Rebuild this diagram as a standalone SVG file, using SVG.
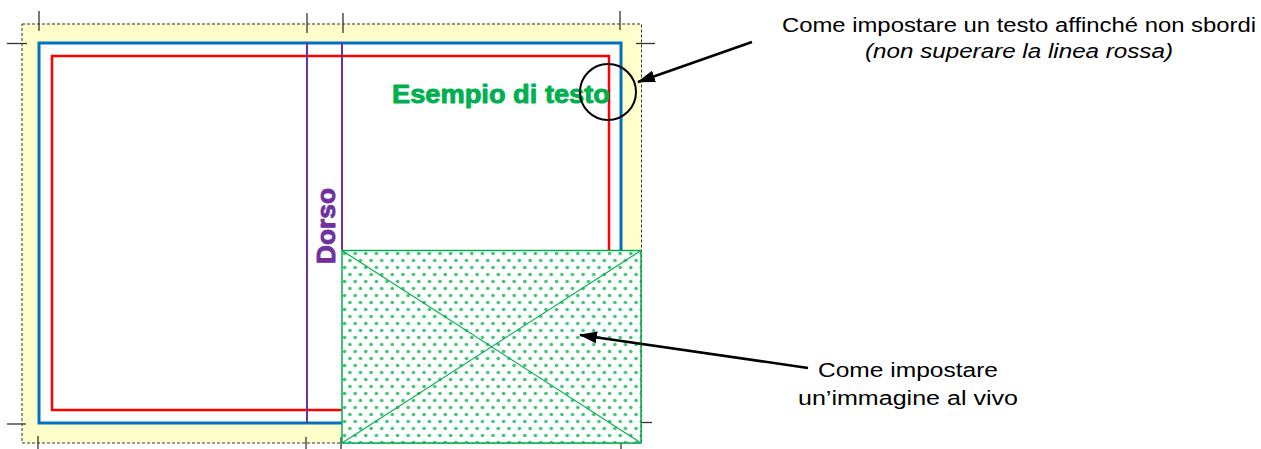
<svg xmlns="http://www.w3.org/2000/svg" width="1261" height="449" viewBox="0 0 1261 449">
<style>
.crop{stroke:#333;stroke-width:1.3;fill:none}
.lbl{font-family:"Liberation Sans",Arial,sans-serif;font-size:20px;fill:#000}
.arr{stroke:#000;stroke-width:2.5;fill:none}
.heavy{font-family:"Liberation Sans",Arial,sans-serif;font-weight:bold;font-size:25px;stroke-width:0.9;stroke-linejoin:round}
</style>
<defs>
<pattern id="dots" patternUnits="userSpaceOnUse" x="342" y="250" width="10.6" height="14">
<rect width="10.6" height="14" fill="#fff"/>
<circle cx="2.6" cy="3.5" r="1.8" fill="#3cc46e"/>
<circle cx="7.9" cy="10.5" r="1.8" fill="#3cc46e"/>
</pattern>
<marker id="ah" markerUnits="userSpaceOnUse" viewBox="0 0 18 12" refX="17" refY="6" markerWidth="18" markerHeight="12" orient="auto">
<path d="M0,0 L18,6 L0,12 z" fill="#000"/>
</marker>
</defs>
<rect width="1261" height="449" fill="#fff"/>
<g id="page">
<rect x="22" y="24" width="619.5" height="419" fill="#ffffcc" stroke="#333" stroke-width="1" stroke-dasharray="3 2"/>
<rect x="39" y="43" width="582" height="380" fill="#fff" stroke="#0070c0" stroke-width="3"/>
<rect x="52" y="56" width="557" height="354" fill="none" stroke="#ff0000" stroke-width="2.5"/>
</g>
<g id="crop-marks">
<line class="crop" x1="39" y1="11" x2="39" y2="31"/>
<line class="crop" x1="7" y1="43.5" x2="27" y2="43.5"/>
<line class="crop" x1="307" y1="13" x2="307" y2="33"/>
<line class="crop" x1="343" y1="13" x2="343" y2="33"/>
<line class="crop" x1="620" y1="11" x2="620" y2="30"/>
<line class="crop" x1="636" y1="43.5" x2="655" y2="43.5"/>
<line class="crop" x1="7" y1="424" x2="26" y2="424"/>
<line class="crop" x1="38" y1="436" x2="38" y2="449"/>
<line class="crop" x1="306" y1="437" x2="306" y2="449"/>
<line class="crop" x1="341" y1="437" x2="341" y2="449"/>
<line class="crop" x1="633" y1="422.5" x2="652" y2="422.5"/>
<line class="crop" x1="621" y1="436" x2="621" y2="449"/>
</g>
<g id="dorso">
<line x1="307" y1="43" x2="307" y2="423" stroke="#7030a0" stroke-width="2"/>
<line x1="342" y1="43" x2="342" y2="250" stroke="#7030a0" stroke-width="2"/>
<text class="heavy" transform="translate(335,226) rotate(-90)" text-anchor="middle" textLength="76" lengthAdjust="spacingAndGlyphs" fill="#7030a0" stroke="#7030a0">Dorso</text>
</g>
<g id="image">
<rect x="342" y="250.5" width="299" height="192.5" fill="url(#dots)" stroke="#00b050" stroke-width="1.5"/>
<line x1="342" y1="250.5" x2="641" y2="443" stroke="#00b050" stroke-width="1.2"/>
<line x1="641" y1="250.5" x2="342" y2="443" stroke="#00b050" stroke-width="1.2"/>
</g>
<g id="sample-text">
<text class="heavy" x="392" y="103" textLength="218" lengthAdjust="spacingAndGlyphs" fill="#00b050" stroke="#00b050">Esempio di testo</text>
</g>
<g id="circle">
<circle cx="608" cy="92" r="28" fill="none" stroke="#000" stroke-width="2"/>
</g>
<g id="label-top">
<text class="lbl" x="1019" y="32" text-anchor="middle" textLength="474" lengthAdjust="spacingAndGlyphs">Come impostare un testo affinché non sbordi</text>
<text class="lbl" x="1019" y="58" text-anchor="middle" font-style="italic" textLength="308" lengthAdjust="spacingAndGlyphs">(non superare la linea rossa)</text>
</g>
<g id="label-bottom">
<text class="lbl" x="908" y="377" text-anchor="middle" textLength="180" lengthAdjust="spacingAndGlyphs">Come impostare</text>
<text class="lbl" x="908" y="405" text-anchor="middle" textLength="220" lengthAdjust="spacingAndGlyphs">un’immagine al vivo</text>
</g>
<g id="connectors">
<line class="arr" x1="752" y1="42" x2="638" y2="82" marker-end="url(#ah)"/>
<line class="arr" x1="808" y1="368" x2="580" y2="335" marker-end="url(#ah)"/>
</g>
</svg>
